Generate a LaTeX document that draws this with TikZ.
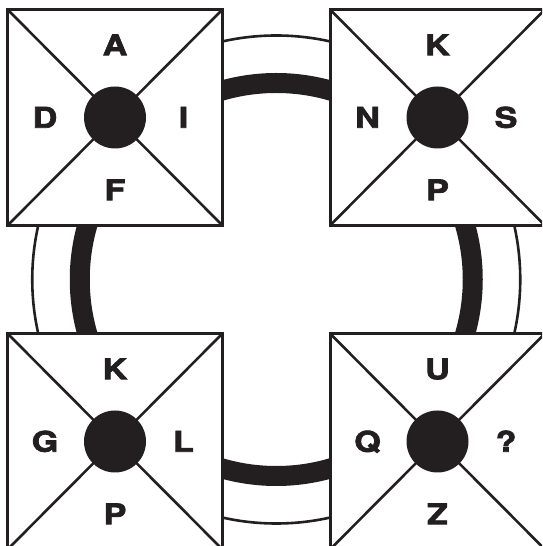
\documentclass[tikz,border=0pt]{standalone}
\usepackage{fontspec}
\setmainfont{TeX Gyre Heros}
\newfontfamily\labfont[FakeStretch=1.2,FakeBold=2.5]{texgyreheros-bold.otf}
\definecolor{ink}{HTML}{231F20}
\begin{document}
\begin{tikzpicture}[x=1pt,y=1pt,
  box/.style={draw=ink, fill=white, line width=3pt, minimum width=215pt, minimum height=216pt, inner sep=0pt, outer sep=0pt},
  diag/.style={draw=ink, line width=2.6pt},
  hub/.style={circle, fill=ink, minimum size=62pt, inner sep=0pt},
  lab/.style={font=\labfont\fontsize{28.5}{30}\selectfont, text=ink, inner sep=0pt, text height=20.5pt, text depth=0pt, anchor=center},
  thinring/.style={draw=ink, line width=2.6pt},
  thickring/.style={draw=ink, line width=20pt}]
\useasboundingbox (0,0) rectangle (542,546);
\clip (0,0) rectangle (542,546);
\coordinate (ctr) at (276.25,266.5);
\draw[thinring] (ctr) circle (244);
\draw[thickring] (ctr) circle (196.5);
\foreach \n/\x/\y/\t/\l/\r/\b in {tl/115/428.5/A/D/I/F, tr/437.5/428.5/K/N/S/P, bl/115/104.5/K/G/L/P, br/437.5/104.5/U/Q/?/Z}{
  \node[box] (\n) at (\x,\y) {};
  \draw[diag] (\n.north west) -- (\n.south east);
  \draw[diag] (\n.north east) -- (\n.south west);
  \node[hub] (\n-hub) at (\n.center) {};
  \node[lab] (\n-t) at ([yshift=72.5pt]\n.center) {\t};
  \node[lab] (\n-b) at ([yshift=-72.5pt]\n.center) {\b};
  \node[lab] (\n-l) at ([xshift=-70pt]\n.center) {\l};
  \node[lab] (\n-r) at ([xshift=68.5pt]\n.center) {\r};
}
\end{tikzpicture}
\end{document}
